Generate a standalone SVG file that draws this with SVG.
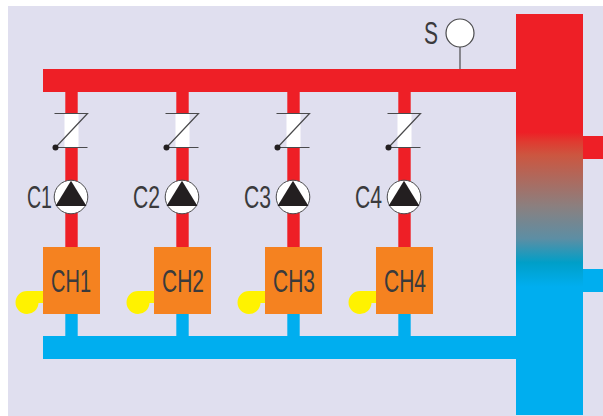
<svg xmlns="http://www.w3.org/2000/svg" width="603" height="416" viewBox="0 0 603 416">
<style>
.red{fill:#ee1f26}.blue{fill:#00aeef}
.t{font-family:"Liberation Sans",Arial,sans-serif;font-size:32px;fill:#3a3a3c}
.l{stroke:#4a4a4c;stroke-width:1.2;fill:none}
</style>
<defs>
<linearGradient id="g" x1="0" y1="0" x2="0" y2="1">
<stop offset="0" stop-color="#ee1f26"/>
<stop offset="0.295" stop-color="#ee1f26"/>
<stop offset="0.318" stop-color="#e03a30"/>
<stop offset="0.352" stop-color="#cc5640"/>
<stop offset="0.481" stop-color="#8a8080"/>
<stop offset="0.56" stop-color="#5d8ea4"/>
<stop offset="0.62" stop-color="#009fc8"/>
<stop offset="0.68" stop-color="#00aeef"/>
<stop offset="1" stop-color="#00aeef"/>
</linearGradient>
<g id="valve">
<rect x="-7" y="0" width="14" height="34" fill="#fff"/>
<path class="l" d="M-17 0H16L-16 34M-16 34H16"/>
<circle cx="-16" cy="34" r="3" fill="#231f20"/>
</g>
<g id="pump">
<circle r="16.800" fill="#fff" stroke="#4a4a4c" stroke-width="1"/>
<path d="M0 -16.300L15.500 9H-15.500Z" fill="#231f20"/>
</g>
<g id="burner">
<path d="M43 291H27A11.500 11.500 0 1 0 38.500 303H43Z" fill="#fff200"/>
<rect x="43" y="247" width="57" height="67" fill="#f58220"/>
</g>
</defs>
<rect x="8" y="6" width="595" height="410" fill="#e0dfef"/>
<g id="connectors">
<rect class="red" x="65.300" y="92" width="12.400" height="155"/>
<rect class="red" x="176.300" y="92" width="12.400" height="155"/>
<rect class="red" x="287.300" y="92" width="12.400" height="155"/>
<rect class="red" x="398.300" y="92" width="12.400" height="155"/>
<rect class="blue" x="65.300" y="314" width="12.400" height="22"/>
<rect class="blue" x="176.300" y="314" width="12.400" height="22"/>
<rect class="blue" x="287.300" y="314" width="12.400" height="22"/>
<rect class="blue" x="398.300" y="314" width="12.400" height="22"/>
<path class="l" d="M460 47V69"/>
</g>
<g id="hot-header"><rect class="red" x="43" y="69" width="473" height="23"/></g>
<g id="cold-header"><rect class="blue" x="43" y="336" width="473" height="23"/></g>
<g id="tank">
<rect x="516" y="14" width="67" height="401" fill="url(#g)"/>
<rect class="red" x="583" y="136" width="20" height="23"/>
<rect class="blue" x="583" y="269" width="20" height="23"/>
</g>
<g id="sensor">
<circle cx="460" cy="33" r="14" fill="#fff" stroke="#4a4a4c" stroke-width="1.2"/>
<text class="t" x="424" y="44" textLength="14" lengthAdjust="spacingAndGlyphs">S</text>
</g>
<g id="valve1"><use href="#valve" x="71.500" y="113.500"/></g>
<g id="valve2"><use href="#valve" x="182.500" y="113.500"/></g>
<g id="valve3"><use href="#valve" x="293.500" y="113.500"/></g>
<g id="valve4"><use href="#valve" x="404.500" y="113.500"/></g>
<g id="pump1"><use href="#pump" x="71" y="197"/><text class="t" x="27" y="208" textLength="25" lengthAdjust="spacingAndGlyphs">C1</text></g>
<g id="pump2"><use href="#pump" x="182" y="197"/><text class="t" x="133" y="208" textLength="27" lengthAdjust="spacingAndGlyphs">C2</text></g>
<g id="pump3"><use href="#pump" x="293" y="197"/><text class="t" x="244" y="208" textLength="27" lengthAdjust="spacingAndGlyphs">C3</text></g>
<g id="pump4"><use href="#pump" x="404" y="197"/><text class="t" x="355" y="208" textLength="27" lengthAdjust="spacingAndGlyphs">C4</text></g>
<g id="ch1"><use href="#burner"/><text class="t" x="51" y="292" textLength="40" lengthAdjust="spacingAndGlyphs">CH1</text></g>
<g id="ch2"><use href="#burner" x="111"/><text class="t" x="162" y="292" textLength="42" lengthAdjust="spacingAndGlyphs">CH2</text></g>
<g id="ch3"><use href="#burner" x="222"/><text class="t" x="273" y="292" textLength="42" lengthAdjust="spacingAndGlyphs">CH3</text></g>
<g id="ch4"><use href="#burner" x="333"/><text class="t" x="384" y="292" textLength="42" lengthAdjust="spacingAndGlyphs">CH4</text></g>
</svg>
